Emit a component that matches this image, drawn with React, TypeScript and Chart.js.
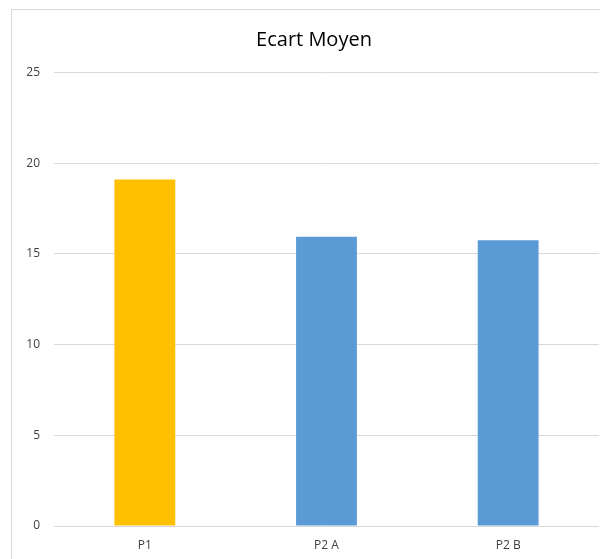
import React, { useEffect, useRef } from "react";
import { Chart, registerables } from "chart.js";

Chart.register(...registerables);

const categories = ["P1", "P2 A", "P2 B"];
const values = [19.1, 15.95, 15.75];
const barColors = ["#FFC000", "#5B9BD5", "#5B9BD5"];
const titleText = "Ecart Moyen";

const titlePlugin = {
  id: "offsetTitle",
  afterDraw(chart: any) {
    const ctx = chart.ctx;
    ctx.save();
    ctx.fillStyle = "#000000";
    ctx.font = "normal 20px 'Open Sans'";
    ctx.textAlign = "center";
    ctx.textBaseline = "middle";
    ctx.fillText(titleText, chart.width / 2 + 8, 30);
    ctx.restore();
  },
};

export default function App() {
  const ref = useRef<HTMLCanvasElement | null>(null);

  useEffect(() => {
    if (!ref.current) return;
    const chart = new Chart(ref.current, {
      type: "bar",
      data: {
        labels: categories,
        datasets: [
          {
            data: values,
            backgroundColor: barColors,
            borderWidth: 0,
            categoryPercentage: 1,
            barPercentage: 0.335,
          },
        ],
      },
      plugins: [titlePlugin],
      options: {
        animation: false,
        responsive: false,
        maintainAspectRatio: false,
        layout: { padding: { left: 0, right: 1, top: 62.6, bottom: 0 } },
        plugins: {
          legend: { display: false },
          tooltip: { enabled: false },
          title: { display: false },
        },
        scales: {
          x: {
            grid: { display: false, drawTicks: false },
            border: { display: false },
            ticks: {
              color: "#404040",
              font: { family: "Open Sans", size: 12 },
              padding: 12,
            },
            afterFit: (scale: any) => {
              scale.height = 33;
            },
          },
          y: {
            min: 0,
            max: 25,
            grid: { color: "#d9d9d9", lineWidth: 1, drawTicks: false },
            border: { display: false },
            ticks: {
              stepSize: 5,
              color: "#404040",
              font: { family: "Open Sans", size: 12 },
              padding: 14,
            },
            afterFit: (scale: any) => {
              scale.width = 42;
            },
          },
        },
      },
    });
    return () => chart.destroy();
  }, []);

  return (
    <div
      style={{
        position: "absolute",
        left: 11,
        top: 9,
        width: 600,
        height: 560,
        borderLeft: "1px solid #d9d9d9",
        borderTop: "1px solid #d9d9d9",
        background: "#ffffff",
      }}
    >
      <canvas ref={ref} width={588} height={549} style={{ display: "block" }} />
    </div>
  );
}
